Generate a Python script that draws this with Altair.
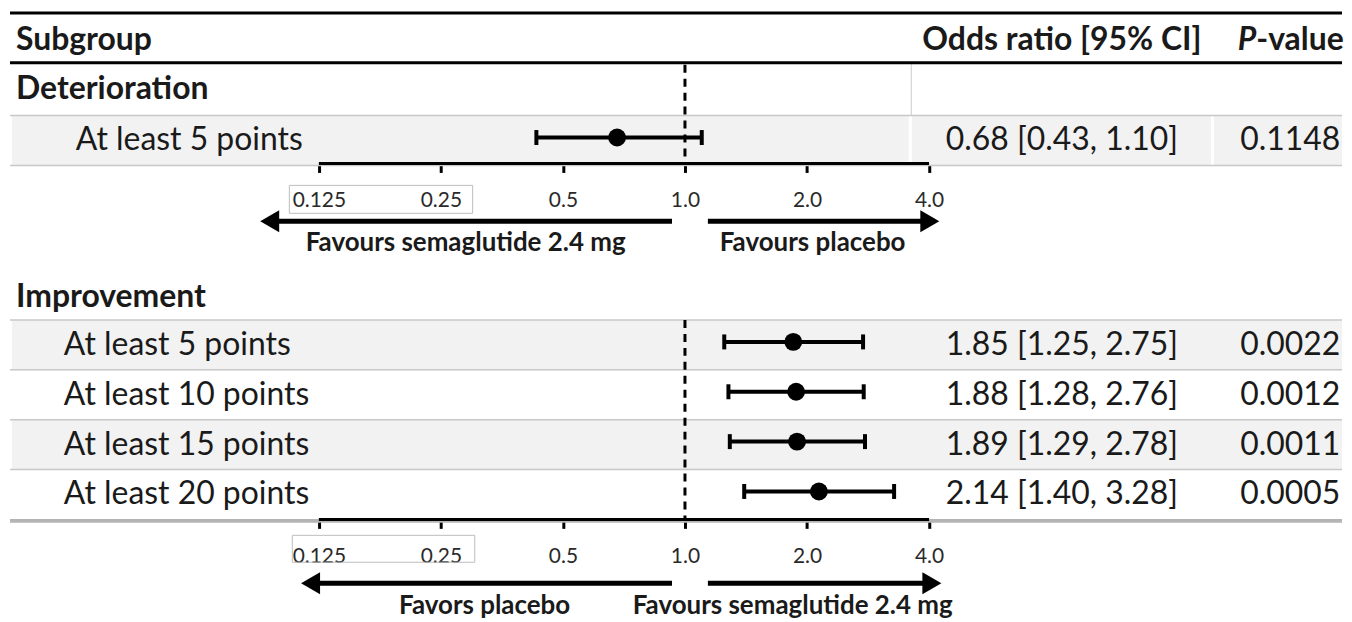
import altair as alt
import pandas as pd

# ---------------- data ----------------
det_labels = ["At least 5 points"]
det_or = [0.68]
det_lo = [0.43]
det_hi = [1.10]
det_p = ["0.1148"]

imp_labels = ["At least 5 points", "At least 10 points", "At least 15 points", "At least 20 points"]
imp_or = [1.85, 1.88, 1.89, 2.14]
imp_lo = [1.25, 1.28, 1.29, 1.40]
imp_hi = [2.75, 2.76, 2.78, 3.28]
imp_p = ["0.0022", "0.0012", "0.0011", "0.0005"]

section_titles = ["Deterioration", "Improvement"]
tick_values = [0.125, 0.25, 0.5, 1.0, 2.0, 4.0]
tick_labels = ["0.125", "0.25", "0.5", "1.0", "2.0", "4.0"]
favour_top = ["Favours semaglutide 2.4 mg", "Favours placebo"]
favour_bottom = ["Favors placebo", "Favours semaglutide 2.4 mg"]

# ---------------- layout ----------------
W, H = 1336, 606
Y_DOMAIN = [-2.64, 9.48]          # row units, 50 px each
X_DOMAIN = [2 ** -5.531, 2 ** 5.384]
FONT = "Lato"
INK = "#1a1a1a"
BODY = 32
HEAD_FS = 32
FAV_FS = 26

det_rows = [0.0]
imp_rows = [4.1, 5.1, 6.1, 7.1]
top_axis_u, bot_axis_u = 0.46, 7.6


def ypix(u):
    return (u - Y_DOMAIN[0]) / (Y_DOMAIN[1] - Y_DOMAIN[0]) * H


xs = alt.Scale(type="log", base=2, domain=X_DOMAIN, nice=False, zero=False)
ys = alt.Scale(domain=Y_DOMAIN, reverse=True, nice=False, zero=False)


def X(f, axis=None):
    return alt.X(f, type="quantitative", scale=xs, axis=axis)


def Y(f):
    return alt.Y(f, type="quantitative", scale=ys, axis=None)


# ---- data frames ----
det_df = pd.DataFrame({"label": det_labels, "or": det_or, "lo": det_lo, "hi": det_hi,
                       "p": det_p, "u": det_rows})
imp_df = pd.DataFrame({"label": imp_labels, "or": imp_or, "lo": imp_lo, "hi": imp_hi,
                       "p": imp_p, "u": imp_rows})
all_df = pd.concat([det_df, imp_df], ignore_index=True)
all_df["ortext"] = [f"{o:.2f} [{l:.2f}, {h:.2f}]" for o, l, h in zip(all_df["or"], all_df["lo"], all_df["hi"])]

bands_df = pd.DataFrame({"u1": [-0.5, imp_rows[0] - 0.5, imp_rows[2] - 0.5],
                         "u2": [0.5, imp_rows[0] + 0.5, imp_rows[2] + 0.5]})

seps_df = pd.DataFrame({
    "u": [-2.56, -1.56, -0.5, 0.5, 3.6, 4.6, 5.6, 6.6, 7.63],
    "c": ["#000000", "#000000"] + ["#c8c8c8"] * 6 + ["#b4b4b4"],
    "w": [3, 3, 1.5, 1.5, 1.5, 1.5, 1.5, 1.5, 4],
})

bands = alt.Chart(bands_df).mark_rect(color="#f2f2f2").encode(
    x=alt.value(2), x2=alt.value(W), y=Y("u1"), y2="u2")

gaps = alt.Chart(pd.DataFrame({"u1": [-0.5], "u2": [0.5]})).mark_rule(color="white", strokeWidth=3).encode(
    x=alt.value(903), y=Y("u1"), y2="u2")
gaps2 = alt.Chart(pd.DataFrame({"u1": [-0.5], "u2": [0.5]})).mark_rule(color="white", strokeWidth=3).encode(
    x=alt.value(1206), y=Y("u1"), y2="u2")
vsep = alt.Chart(pd.DataFrame({"u1": [-1.56], "u2": [-0.5]})).mark_rule(color="#cccccc", strokeWidth=1).encode(
    x=alt.value(904), y=Y("u1"), y2="u2")

seps = alt.Chart(seps_df).mark_rule().encode(
    x=alt.value(0), x2=alt.value(W), y=Y("u"),
    color=alt.Color("c:N", scale=None), strokeWidth=alt.StrokeWidth("w:Q", scale=None))

ref_df = pd.DataFrame({"x": [1.0, 1.0], "u1": [-1.52, 3.6], "u2": [top_axis_u, bot_axis_u]})
ref = alt.Chart(ref_df).mark_rule(color="black", strokeWidth=3, strokeDash=[8, 6]).encode(
    x=X("x"), y=Y("u1"), y2="u2")

ci = alt.Chart(all_df).mark_rule(color="black", strokeWidth=4, yOffset=-3).encode(
    x=X("lo"), x2="hi", y=Y("u"))
cap_lo = alt.Chart(all_df).mark_tick(color="black", orient="vertical", size=15, thickness=4,
                                     opacity=1, yOffset=-3).encode(x=X("lo"), y=Y("u"))
cap_hi = alt.Chart(all_df).mark_tick(color="black", orient="vertical", size=15, thickness=4,
                                     opacity=1, yOffset=-3).encode(x=X("hi"), y=Y("u"))
pts = alt.Chart(all_df).mark_circle(color="black", size=320, opacity=1, yOffset=-3).encode(
    x=X("or"), y=Y("u"))

# ---- axes ----
label_expr = " : ".join(f"datum.value == {v} ? '{l}'" for v, l in zip(tick_values, tick_labels)) + " : ''"


def make_axis(off):
    return alt.Axis(orient="bottom", offset=off, values=tick_values, labelExpr=label_expr,
                    domain=False, grid=False, ticks=True, tickSize=9, tickWidth=3, tickColor="black",
                    labelFont=FONT, labelFontSize=21, labelColor="#2a2a2a", labelPadding=17,
                    labelFlush=False, labelOverlap=False, title=None)


axis_top = alt.Chart(pd.DataFrame({"a": [tick_values[0]], "b": [tick_values[-1]], "u": [top_axis_u]})).mark_rule(
    color="black", strokeWidth=3).encode(x=X("a", make_axis(ypix(top_axis_u) - H)), x2="b", y=Y("u"))
axis_bot = alt.Chart(pd.DataFrame({"a": [tick_values[0]], "b": [tick_values[-1]], "u": [bot_axis_u]})).mark_rule(
    color="black", strokeWidth=3).encode(x=X("a", make_axis(ypix(bot_axis_u) - H)), x2="b", y=Y("u"))

boxes_df = pd.DataFrame({"a": [0.1057, 0.1075], "b": [0.2994, 0.303], "u1": [0.9, 7.92], "u2": [1.46, 8.46]})
boxes = alt.Chart(boxes_df).mark_rect(fill="transparent", stroke="#bdbdbd", strokeWidth=1).encode(
    x=X("a"), x2="b", y=Y("u1"), y2="u2")

# ---- arrows ----
HEAD = 9.5
arr_left = pd.DataFrame({"inner": [0.929, 0.929], "tip": [0.0896, 0.113], "u": [1.62, 8.88]})
arr_right = pd.DataFrame({"inner": [1.139, 1.139], "tip": [4.24, 4.29], "u": [1.62, 8.88]})
al_line = alt.Chart(arr_left).mark_rule(color="black", strokeWidth=5, x2Offset=HEAD).encode(
    x=X("inner"), x2="tip", y=Y("u"))
ar_line = alt.Chart(arr_right).mark_rule(color="black", strokeWidth=5, x2Offset=-HEAD).encode(
    x=X("inner"), x2="tip", y=Y("u"))
al_head = alt.Chart(arr_left).mark_point(shape="triangle-left", filled=True, size=484, color="black",
                                         opacity=1, strokeWidth=0, xOffset=HEAD).encode(x=X("tip"), y=Y("u"))
ar_head = alt.Chart(arr_right).mark_point(shape="triangle-right", filled=True, size=484, color="black",
                                          opacity=1, strokeWidth=0, xOffset=-HEAD).encode(x=X("tip"), y=Y("u"))

# ---- text ----
def txt(df, field, xv, align="left", size=BODY, weight="normal", style="normal"):
    return alt.Chart(df).mark_text(align=align, baseline="middle", font=FONT, fontSize=size,
                                   fontWeight=weight, fontStyle=style, color=INK).encode(
        x=alt.value(xv), y=Y("u"), text=f"{field}:N")


hdr_sub = txt(pd.DataFrame({"t": ["Subgroup"], "u": [-2.02]}), "t", 6, size=HEAD_FS, weight="bold")
hdr_or = txt(pd.DataFrame({"t": ["Odds ratio [95% CI]"], "u": [-2.02]}), "t", 1055, align="center", size=HEAD_FS, weight="bold")
hdr_p1 = txt(pd.DataFrame({"t": ["P"], "u": [-2.02]}), "t", 1250, align="right", size=HEAD_FS, weight="bold", style="italic")
hdr_p2 = txt(pd.DataFrame({"t": ["-value"], "u": [-2.02]}), "t", 1250, size=HEAD_FS, weight="bold")
sec = txt(pd.DataFrame({"t": section_titles, "u": [-1.04, 3.14]}), "t", 6, size=HEAD_FS, weight="bold")

lab_det = txt(det_df, "label", 66)
lab_imp = txt(imp_df, "label", 54)
or_txt = txt(all_df, "ortext", 1055, align="center")
p_txt = txt(all_df, "p", 1284, align="center")

fav_tl = txt(pd.DataFrame({"t": [favour_top[0]], "u": [2.06]}), "t", 457, align="center", size=FAV_FS, weight="bold")
fav_tr = txt(pd.DataFrame({"t": [favour_top[1]], "u": [2.06]}), "t", 805, align="center", size=FAV_FS, weight="bold")
fav_bl = txt(pd.DataFrame({"t": [favour_bottom[0]], "u": [9.34]}), "t", 476, align="center", size=FAV_FS, weight="bold")
fav_br = txt(pd.DataFrame({"t": [favour_bottom[1]], "u": [9.34]}), "t", 785, align="center", size=FAV_FS, weight="bold")

chart = alt.layer(
    bands, gaps, gaps2, vsep, seps, boxes, ref, axis_top, axis_bot,
    ci, cap_lo, cap_hi, pts,
    al_line, ar_line, al_head, ar_head,
    hdr_sub, hdr_or, hdr_p1, hdr_p2, sec, lab_det, lab_imp, or_txt, p_txt,
    fav_tl, fav_tr, fav_bl, fav_br,
).resolve_axis(x="independent").properties(
    width=W, height=H, padding=0, background="white"
).configure_view(stroke=None)

chart.save("out.html", embed_options={"renderer": "svg", "actions": False})
